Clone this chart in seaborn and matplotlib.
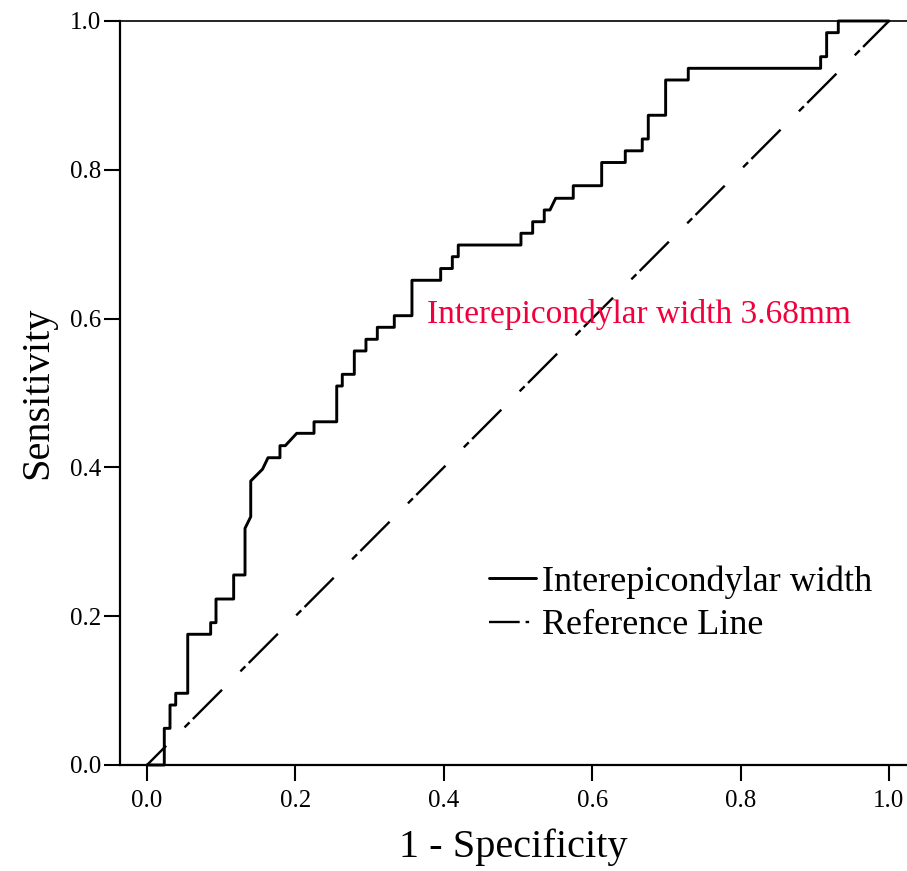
import numpy as np
import pandas as pd
import seaborn as sns
import matplotlib.pyplot as plt

# ROC curve vertices (1 - specificity, sensitivity)
fpr = [0.0, 0.0233, 0.0233, 0.031, 0.031, 0.0387, 0.0387, 0.0549, 0.0549,
       0.0858, 0.0858, 0.093, 0.093, 0.1168, 0.1168, 0.1321, 0.1321, 0.1398,
       0.1398, 0.1557, 0.1631, 0.1792, 0.1792, 0.1864, 0.2018, 0.2251, 0.2251,
       0.2557, 0.2557, 0.2632, 0.2632, 0.2794, 0.2794, 0.2951, 0.2951, 0.3104,
       0.3104, 0.3333, 0.3333, 0.3571, 0.3571, 0.3958, 0.3958, 0.4115, 0.4115,
       0.4195, 0.4195, 0.504, 0.504, 0.5198, 0.5198, 0.5354, 0.5354, 0.5431,
       0.5508, 0.5745, 0.5745, 0.6128, 0.6128, 0.6446, 0.6446, 0.6675, 0.6675,
       0.6756, 0.6756, 0.699, 0.699, 0.7295, 0.7295, 0.9079, 0.9079, 0.916,
       0.916, 0.9317, 0.9317, 1.0]
tpr = [0.0, 0.0, 0.0493, 0.0493, 0.0806, 0.0806, 0.0964, 0.0964, 0.1757,
       0.1757, 0.1913, 0.1913, 0.2231, 0.2231, 0.2554, 0.2554, 0.3181, 0.3337,
       0.3817, 0.3976, 0.413, 0.413, 0.4292, 0.4292, 0.4458, 0.4458, 0.4613,
       0.4613, 0.5094, 0.5094, 0.5251, 0.5251, 0.5565, 0.5565, 0.5722, 0.5722,
       0.5883, 0.5883, 0.6039, 0.6039, 0.6515, 0.6515, 0.6673, 0.6673, 0.6832,
       0.6832, 0.6989, 0.6989, 0.7147, 0.7147, 0.7302, 0.7302, 0.746, 0.746,
       0.7617, 0.7617, 0.7786, 0.7786, 0.8098, 0.8098, 0.8255, 0.8255, 0.8414,
       0.8414, 0.8733, 0.8733, 0.9207, 0.9207, 0.9364, 0.9364, 0.952, 0.952,
       0.9843, 0.9843, 1.0, 1.0]
ref_x = [0.0, 1.0]
ref_y = [0.0, 1.0]
curve_name = "Interepicondylar width"
ref_name = "Reference Line"
cutoff_text = "Interepicondylar width 3.68mm"
ticks = [0.0, 0.2, 0.4, 0.6, 0.8, 1.0]

sns.set_style("ticks")
plt.rcParams['font.family'] = ['Liberation Serif', 'DejaVu Serif']
plt.rcParams['text.color'] = 'black'
plt.rcParams['axes.labelcolor'] = 'black'

fig = plt.figure(figsize=(9.07, 8.71), dpi=100)
ax = fig.add_axes([0.1323, 0.1217, 0.8677, 0.8542])

df = pd.DataFrame({"fpr": fpr, "tpr": tpr})
sns.lineplot(data=df, x="fpr", y="tpr", sort=False, estimator=None, color="black",
             lw=2.1, label=curve_name, ax=ax, clip_on=False, zorder=3)
sns.lineplot(x=ref_x, y=ref_y, sort=False, estimator=None, color="black", lw=1.7,
             linestyle=(6, (17.5, 11, 3, 2)), label=ref_name, ax=ax)

ax.set_xlim(-0.0364, 1.0243)
ax.set_ylim(0, 1)
ax.set_xticks(ticks)
ax.set_yticks(ticks)
ax.set_xticklabels([f"{t:.1f}" for t in ticks])
ax.set_yticklabels([f"{t:.1f}" for t in ticks])
ax.tick_params(axis="both", direction="out", length=11.5, width=1.5, labelsize=18,
               colors="black")
ax.tick_params(axis="x", pad=6.5)
ax.tick_params(axis="y", pad=2)

ax.spines["right"].set_visible(False)
for s in ["left", "bottom"]:
    ax.spines[s].set_linewidth(1.6)
    ax.spines[s].set_color("black")
ax.spines["top"].set_linewidth(1.2)
ax.spines["top"].set_color("black")

ax.set_xlabel("1 - Specificity", fontsize=29, labelpad=12)
ax.set_ylabel("Sensitivity", fontsize=29, labelpad=10)

ax.text(0.377, 0.605, cutoff_text, color="#F2003C", fontsize=24,
        ha="left", va="center")

leg = ax.legend(loc="upper left", bbox_to_anchor=(0.461, 0.268),
                bbox_transform=ax.transData, frameon=False, fontsize=26,
                handlelength=1.3, handletextpad=0.18, labelspacing=0.28,
                borderpad=0, borderaxespad=0)
leg.get_lines()[1].set_linestyle((0, (13, 2.5, 1.5, 10)))

fig.savefig("out.png", dpi=100)
